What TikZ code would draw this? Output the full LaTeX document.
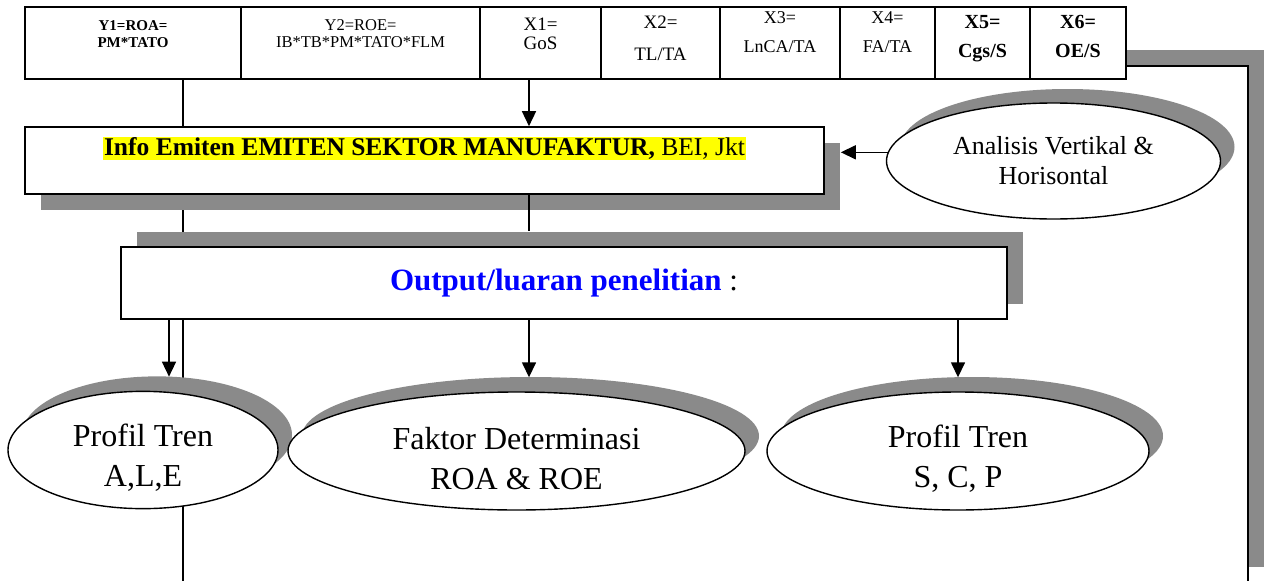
\documentclass[tikz,border=0pt]{standalone}
\usepackage{fontspec}
\setmainfont{Liberation Serif}
\usetikzlibrary{shapes.geometric,arrows.meta,positioning,shadows}
\definecolor{hlyellow}{RGB}{255,255,0}
\definecolor{outblue}{RGB}{0,0,255}
\definecolor{shadowgrey}{RGB}{138,138,138}
\newcommand{\fsz}[2]{\fontsize{#1}{#2}\selectfont}
\newcommand{\lowstrut}[1]{\rule[-#1]{0pt}{#1}}
\newcommand{\highstrut}[1]{\rule{0pt}{#1}}
\setlength{\fboxsep}{1pt}

\begin{document}
\begin{tikzpicture}[x=1pt, y=-1pt,
    cell/.style={draw, line width=1.3pt, fill=white, minimum height=72pt,
                 inner sep=0pt, outer sep=0pt, align=center},
    bigbox/.style={draw, line width=1.6pt, fill=white, inner sep=0pt, align=center},
    oval/.style={ellipse, draw, line width=1.4pt, fill=white, inner sep=0pt, align=center},
    greyshadow/.style 2 args={drop shadow={shadow xshift=#1, shadow yshift=#2,
                 fill=shadowgrey, opacity=1}},
    arr/.style={-{Triangle[length=15pt, width=14pt]}, line width=1.5pt},
    link/.style={line width=1.5pt}
]
\useasboundingbox (0,0) rectangle (1264,581);

% outer frame
\draw[link, fill=white, greyshadow={16pt}{16pt}] (183,66) rectangle (1248,583);

% variable row
\node[cell, minimum width=216pt, font=\fsz{15}{17}\bfseries] (y1) at (133,43) {Y1=ROA=\\PM*TATO\lowstrut{18pt}};
\node[cell, minimum width=239pt, font=\fsz{16.5}{17}, right=0pt of y1] (y2) {Y2=ROE=\\IB*TB*PM*TATO*FLM\lowstrut{18pt}};
\node[cell, minimum width=121pt, font=\fsz{19}{19}, right=0pt of y2] (x1) {X1=\\GoS\lowstrut{18pt}};
\node[cell, minimum width=119pt, font=\fsz{19}{19}, right=0pt of x1] (x2) {X2=\\[13pt]TL/TA\lowstrut{10pt}};
\node[cell, minimum width=120pt, font=\fsz{18}{17}, right=0pt of x2] (x3) {X3=\\[12pt]LnCA/TA\lowstrut{21pt}};
\node[cell, minimum width=95pt, font=\fsz{18}{17}, right=0pt of x3] (x4) {X4=\\[12pt]FA/TA\lowstrut{21pt}};
\node[cell, minimum width=95pt, font=\fsz{20}{20}\bfseries, right=0pt of x4] (x5) {X5=\\[9pt]Cgs/S\lowstrut{13pt}};
\node[cell, minimum width=96pt, font=\fsz{20}{20}\bfseries, right=0pt of x5] (x6) {X6=\\[9pt]OE/S\lowstrut{13pt}};

\node[bigbox, minimum width=799pt, minimum height=67pt, font=\fsz{25.5}{29},
      greyshadow={16pt}{-16pt}] (info) at (424.5,160.5)
      {\colorbox{hlyellow}{\textbf{Info Emiten EMITEN SEKTOR MANUFAKTUR,} BEI, Jkt}\lowstrut{29pt}};
\node[oval, minimum width=334pt, minimum height=116pt, font=\fsz{26}{30},
      greyshadow={14pt}{14pt}] (ana) at (1053.5,161) {Analisis Vertikal \&\\Horisontal};

\node[bigbox, minimum width=886pt, minimum height=72pt, font=\fsz{31}{36},
      greyshadow={16pt}{15pt}] (out) at (564,283)
      {\textcolor{outblue}{\textbf{Output/luaran penelitian}} :};

\node[oval, minimum width=270pt, minimum height=116pt, font=\fsz{32}{40},
      greyshadow={14pt}{15pt}] (pa) at (143,450) {\highstrut{38pt}Profil Tren\\A,L,E};
\node[oval, minimum width=457pt, minimum height=118pt, font=\fsz{32}{40},
      greyshadow={14pt}{15pt}] (fd) at (516.5,451) {\highstrut{38pt}Faktor Determinasi\\ROA \& ROE};
\node[oval, minimum width=382pt, minimum height=118pt, font=\fsz{32}{40},
      greyshadow={14pt}{15pt}] (sp) at (958,451) {\highstrut{38pt}Profil Tren\\S, C, P};

\coordinate (spine) at (529,0);
\coordinate (leftdrop) at (169,0);

\draw[arr] (x1.south -| spine) -- (info.north -| spine);
\draw[arr] (ana.177) -- ([xshift=16pt]info.east |- ana.177);
\draw[link] (info.south -| spine) -- ([yshift=15pt]out.north -| spine);
\draw[arr] (out.south -| leftdrop) -- ([yshift=14pt]pa.north -| leftdrop);
\draw[arr] (out.south -| spine) -- ([yshift=14pt]fd.north -| spine);
\draw[arr] (out.south -| sp.north) -- ([yshift=14pt]sp.north);
\end{tikzpicture}
\end{document}
